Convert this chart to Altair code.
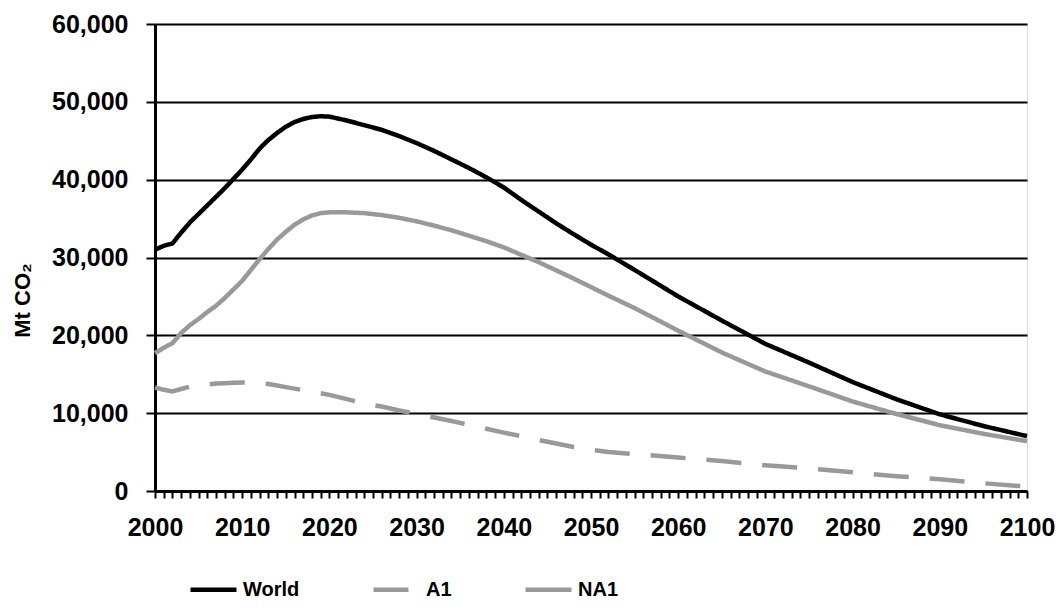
import altair as alt
import pandas as pd

years = list(range(2000, 2021)) + list(range(2022, 2053, 2)) + list(range(2055, 2101, 5))

world = [31000, 31500, 31800, 33200, 34500, 35600, 36700, 37800, 38900, 40100,
         41300, 42600, 44000, 45100, 46000, 46800, 47400, 47800, 48050, 48150, 48100,
         47600, 47000, 46400, 45600, 44700, 43700, 42600, 41500, 40300, 39000,
         37400, 35900, 34400, 33000, 31650, 30400,
         28400, 25000, 21900, 18900, 16500, 14000, 11800, 9850, 8350, 7050]

a1 = [13300, 13000, 12800, 13100, 13400, 13600, 13700, 13800, 13850, 13900,
      13950, 13950, 13900, 13750, 13550, 13350, 13150, 12950, 12750, 12550, 12350,
      11800, 11250, 10850, 10350, 9900, 9450, 9000, 8500, 8000, 7500,
      7050, 6550, 6100, 5650, 5300, 5000,
      4750, 4300, 3850, 3300, 2900, 2400, 1900, 1500, 1000, 560]

na1 = [17700, 18400, 19000, 20300, 21300, 22100, 23000, 23800, 24800, 25900,
       27000, 28400, 29800, 31100, 32300, 33300, 34200, 34900, 35400, 35700, 35800,
       35800, 35700, 35450, 35100, 34650, 34100, 33500, 32800, 32100, 31300,
       30350, 29400, 28350, 27300, 26200, 25100,
       23500, 20600, 17800, 15350, 13450, 11500, 9900, 8450, 7350, 6400]

series_names = ["World", "A1", "NA1"]
series_colors = ["#000000", "#999999", "#999999"]
series_dashes = [[1, 0], [35, 21], [1, 0]]
y_ticks = [0, 10000, 20000, 30000, 40000, 50000, 60000]
x_ticks = list(range(2000, 2101))

rows = []
for name, vals in zip(series_names, [world, a1, na1]):
    for yr, v in zip(years, vals):
        rows.append({"Year": yr, "Value": v, "Series": name})
df = pd.DataFrame(rows)

FONT = "Liberation Sans"

chart = alt.Chart(df).mark_line(strokeWidth=4.5, strokeCap="butt").encode(
    x=alt.X("Year:Q",
            scale=alt.Scale(domain=[2000, 2100], nice=False, zero=False),
            axis=alt.Axis(values=x_ticks, format="d",
                          labelExpr="datum.value % 10 == 0 ? datum.label : ''",
                          labelOverlap=False, labelFlush=False, grid=False,
                          tickSize=7, tickWidth=2, tickColor="black",
                          domainColor="black", domainWidth=3,
                          labelFont=FONT, labelFontSize=25, labelFontWeight="bold",
                          labelColor="black", labelPadding=17, title=None)),
    y=alt.Y("Value:Q",
            scale=alt.Scale(domain=[0, 60000], nice=False),
            axis=alt.Axis(values=y_ticks, format=",.0f",
                          grid=True, gridColor="black", gridWidth=2, gridOpacity=1,
                          tickSize=9, tickWidth=2, tickColor="black",
                          domainColor="black", domainWidth=3,
                          labelFont=FONT, labelFontSize=25, labelFontWeight="bold",
                          labelColor="black", labelPadding=18,
                          title="Mt CO₂", titleFont=FONT, titleFontSize=22,
                          titleFontWeight="bold", titleColor="black",
                          titleAngle=270, titleX=-133, titleY=276,
                          titleAlign="center", titleBaseline="middle")),
    color=alt.Color("Series:N",
                    scale=alt.Scale(domain=series_names, range=series_colors),
                    legend=alt.Legend(title=None, orient="none", direction="horizontal",
                                      legendX=33, legendY=540, columns=3,
                                      symbolType="stroke", symbolSize=2116,
                                      symbolStrokeWidth=4.5, columnPadding=64,
                                      labelFont=FONT, labelFontSize=20,
                                      labelFontWeight="bold", labelColor="black",
                                      labelOffset=4, padding=0)),
    strokeDash=alt.StrokeDash("Series:N",
                              scale=alt.Scale(domain=series_names, range=series_dashes),
                              legend=None),
    order=alt.Order("Year:Q"),
).properties(
    width=872, height=467,
    autosize=alt.AutoSizeParams(type="none"),
    padding={"left": 147, "top": 16, "right": 28, "bottom": 111},
).configure_view(
    stroke="black", strokeWidth=2
).configure(background="white")

chart.save("out.html", embed_options={"renderer": "svg", "actions": False})
